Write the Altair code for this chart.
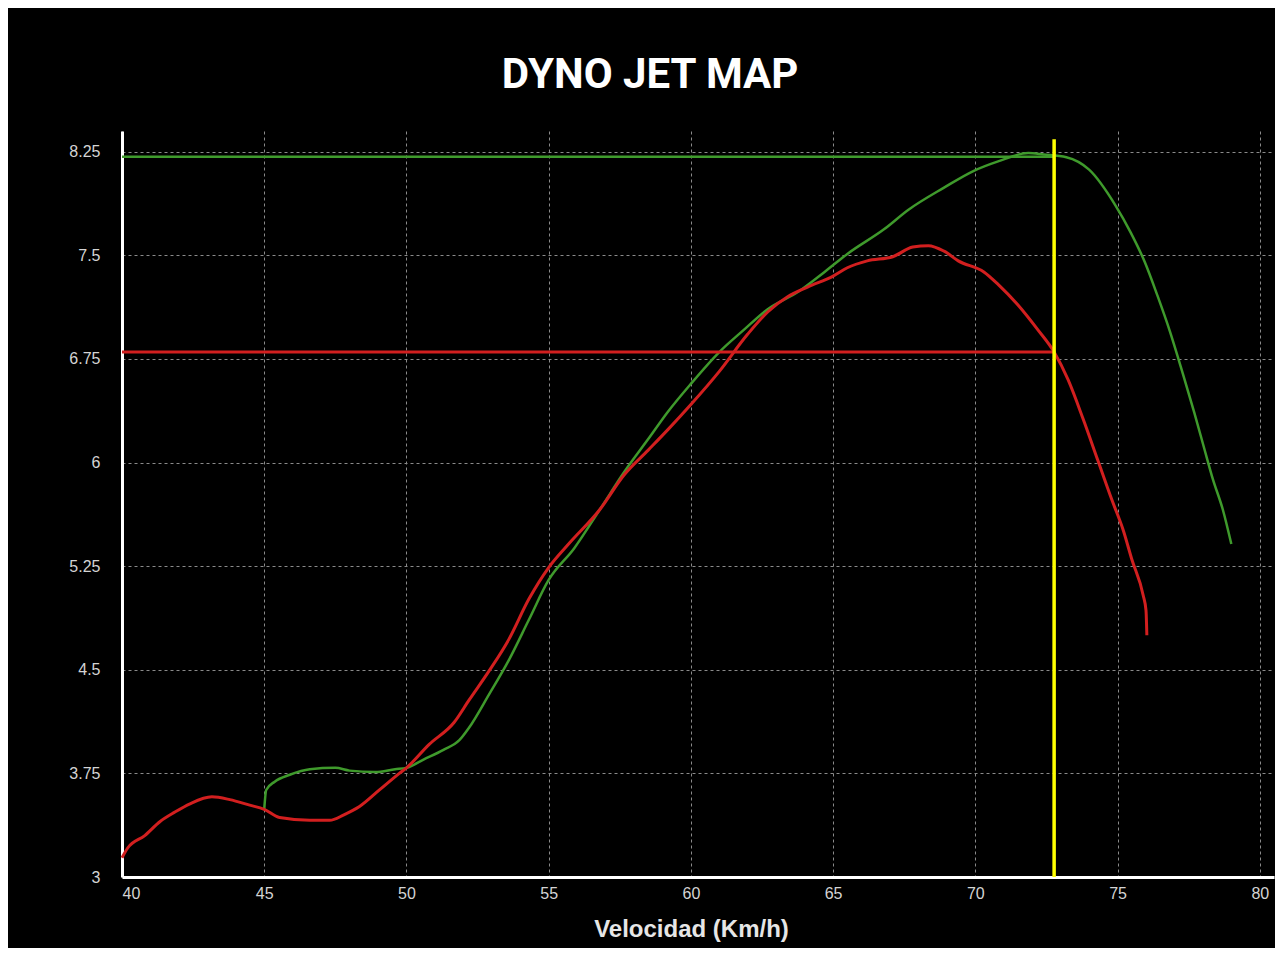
import altair as alt
import pandas as pd

# ---- data ----
red_x = [40.0, 40.2, 40.8, 41.33, 41.86, 42.39, 43.16, 43.79, 44.49, 45.0, 45.54, 46.6, 47.3, 47.8,
         48.35, 49.05, 49.75, 50.0, 50.8, 51.68, 52.2, 52.9, 53.6, 54.3, 55.0, 55.7, 56.8, 57.65,
         58.5, 59.2, 60.0, 61.0, 62.0, 62.7, 63.4, 64.1, 65.0, 65.5, 66.2, 67.1, 67.8, 68.35, 68.9,
         69.4, 70.3, 70.8, 71.5, 72.2, 72.77, 73.26, 73.8, 74.3, 74.8, 75.2, 75.5, 75.9, 76.0, 76.03]
red_y = [3.14, 3.21, 3.30, 3.40, 3.47, 3.53, 3.58, 3.56, 3.52, 3.49, 3.43, 3.41, 3.41, 3.45,
         3.51, 3.63, 3.75, 3.79, 3.96, 4.12, 4.28, 4.49, 4.72, 5.01, 5.24, 5.41, 5.66, 5.91,
         6.09, 6.24, 6.42, 6.66, 6.93, 7.09, 7.20, 7.27, 7.35, 7.41, 7.46, 7.49, 7.56, 7.57, 7.53,
         7.46, 7.38, 7.29, 7.14, 6.96, 6.80, 6.60, 6.31, 6.02, 5.73, 5.51, 5.30, 5.04, 4.93, 4.75]

green_x = [45.0, 45.07, 45.37, 45.9, 46.6, 47.5, 48.0, 48.9, 49.6, 50.0, 50.6, 51.3, 51.86, 52.2,
           52.9, 53.6, 54.3, 55.0, 55.9, 56.8, 57.65, 58.5, 59.2, 60.0, 61.0, 61.86, 62.7, 63.8,
           64.7, 65.5, 66.8, 67.65, 68.9, 69.93, 70.8, 71.86, 72.4, 73.2, 74.0, 74.93, 75.45, 75.96,
           76.4, 76.84, 77.3, 77.7, 78.05, 78.35, 78.7, 79.0]
green_y = [3.49, 3.63, 3.69, 3.74, 3.78, 3.79, 3.77, 3.76, 3.78, 3.79, 3.85, 3.92, 3.99, 4.08,
           4.32, 4.57, 4.86, 5.15, 5.38, 5.66, 5.93, 6.17, 6.37, 6.57, 6.80, 6.96, 7.11, 7.24,
           7.38, 7.51, 7.69, 7.83, 7.99, 8.11, 8.18, 8.24, 8.23, 8.21, 8.12, 7.86, 7.67, 7.45,
           7.21, 6.95, 6.64, 6.36, 6.10, 5.88, 5.66, 5.41]

marker_x = [72.77]
marker_top = [8.34]
green_level = [8.214]
red_level = [6.80]

x_ticks = [40, 45, 50, 55, 60, 65, 70, 75, 80]
y_ticks = [3, 3.75, 4.5, 5.25, 6, 6.75, 7.5, 8.25]

x_scale = alt.Scale(domain=[40, 80.5], nice=False, zero=False)
y_scale = alt.Scale(domain=[3, 8.4], nice=False, zero=False)

x_axis = alt.Axis(values=x_ticks, title="Velocidad (Km/h)", labelFlush=True, labelPadding=8,
                  titlePadding=16, titleFontSize=24, titleFont="Liberation Sans",
                  titleFontWeight="bold", titleColor="#e6e6e6", format="d", titleX=569)
y_axis = alt.Axis(values=y_ticks, title=None, labelPadding=22, labelFlush=False,
                  labelExpr="datum.value")

red_df = pd.DataFrame({"x": red_x, "y": red_y})
green_df = pd.DataFrame({"x": green_x, "y": green_y})
lvl_df = pd.DataFrame({"x0": [40, 40], "x1": marker_x * 2, "y": green_level + red_level,
                       "s": ["green", "red"]})
mk_df = pd.DataFrame({"x": marker_x, "y0": [3], "y1": marker_top})

base_x = alt.X("x:Q", scale=x_scale, axis=x_axis)
base_y = alt.Y("y:Q", scale=y_scale, axis=y_axis)

green_line = alt.Chart(green_df).mark_line(color="#3f9a2c", strokeWidth=2.5, interpolate="monotone").encode(
    x=base_x, y=base_y)
red_line = alt.Chart(red_df).mark_line(color="#d21f1f", strokeWidth=3, interpolate="monotone").encode(
    x=alt.X("x:Q", scale=x_scale), y=alt.Y("y:Q", scale=y_scale))

levels = alt.Chart(lvl_df).mark_rule().encode(
    x=alt.X("x0:Q", scale=x_scale), x2="x1:Q", y=alt.Y("y:Q", scale=y_scale),
    color=alt.Color("s:N", scale=alt.Scale(domain=["green", "red"], range=["#3f9a2c", "#d21f1f"]), legend=None),
    strokeWidth=alt.StrokeWidth("s:N", scale=alt.Scale(domain=["green", "red"], range=[2.5, 3]), legend=None),
)

marker = alt.Chart(mk_df).mark_rule(color="#ffff00", strokeWidth=3.5).encode(
    x=alt.X("x:Q", scale=x_scale), y=alt.Y("y0:Q", scale=y_scale), y2="y1:Q")

chart = alt.layer(green_line, levels, red_line, marker).properties(
    width=1152, height=746,
    background="#000000",
    padding={"left": 114, "top": 123, "right": 1, "bottom": 71},
    autosize=alt.AutoSizeParams(type="none"),
    title=alt.TitleParams("DYNO JET MAP", font="Roboto", fontSize=42, fontWeight="bold",
                          color="#ffffff", anchor="middle", offset=34, dx=-48),
).configure_view(stroke=None).configure_axis(
    domainColor="#ffffff", domainWidth=3, ticks=False,
    labelFont="Liberation Sans", labelFontSize=16, labelColor="#d4d4d4",
    grid=True, gridColor="#8a8a8a", gridDash=[3, 3], gridWidth=1,
)

chart.save("out.html", embed_options={"renderer": "svg", "actions": False})
